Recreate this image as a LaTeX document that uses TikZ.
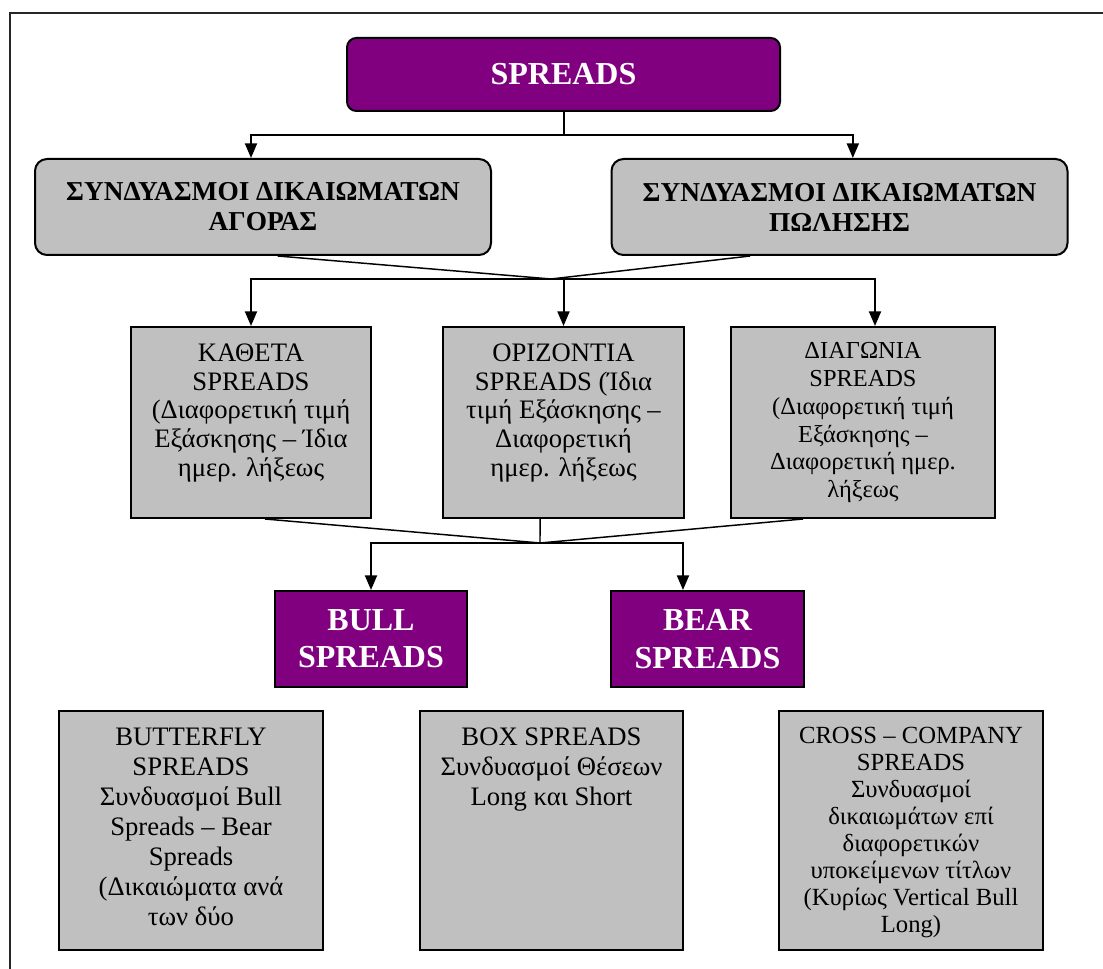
\documentclass[tikz,border=0pt]{standalone}
\usepackage{fontspec}
\setmainfont{Liberation Serif}
\usetikzlibrary{positioning,arrows.meta}
\definecolor{spreadpurple}{HTML}{800080}
\definecolor{spreadgray}{HTML}{C0C0C0}
\newcommand{\celltext}[4]{\parbox[c][#1][t]{#2}{\centering\rule{0pt}{#3}#4}}

\begin{document}
\begin{tikzpicture}[x=0.75pt, y=-0.75pt,
  headbox/.style={draw, line width=1.5pt, fill=spreadpurple, text=white,
    font=\fontsize{24}{28}\selectfont\bfseries, align=center},
  groupbox/.style={draw, line width=1.5pt, fill=spreadgray, rounded corners=9pt,
    minimum width=342pt, minimum height=72pt, align=center,
    font=\fontsize{20.5}{22.5}\selectfont\bfseries},
  kindbox/.style={draw, line width=1.5pt, fill=spreadgray, inner sep=0pt,
    font=\fontsize{20}{21.5}\selectfont},
  wire/.style={line width=1.5pt},
  feed/.style={line width=1.5pt, -{Triangle[length=11pt,width=9pt]}},
  merge/.style={line width=1.1pt}]
\useasboundingbox (0,0) rectangle (1103,969);
\draw[line width=2pt, black!85] (10,969) -- (10,13) -- (1103,13);

\node[headbox, rounded corners=7pt, minimum width=324.75pt, minimum height=54.75pt]
  (spreads) at (563.5,74.5) {SPREADS};
\node[groupbox] (agoras) at (263,207) {ΣΥΝΔΥΑΣΜΟΙ ΔΙΚΑΙΩΜΑΤΩΝ\\ΑΓΟΡΑΣ};
\node[groupbox] (poliseis) at (839.5,207) {ΣΥΝΔΥΑΣΜΟΙ ΔΙΚΑΙΩΜΑΤΩΝ\\ΠΩΛΗΣΗΣ};

\node[kindbox, minimum width=180pt, minimum height=143.25pt] (katheta) at (251,422.5)
  {\celltext{143.25pt}{176pt}{26pt}{ΚΑΘΕΤΑ\\SPREADS\\(Διαφορετική τιμή\\Εξάσκησης – Ίδια\\ημερ. λήξεως}};
\node[kindbox, minimum width=180.75pt, minimum height=143.25pt] (orizontia) at (563.5,422.5)
  {\celltext{143.25pt}{176pt}{26pt}{ΟΡΙΖΟΝΤΙΑ\\SPREADS (Ίδια\\τιμή Εξάσκησης –\\Διαφορετική\\ημερ. λήξεως}};
\node[kindbox, minimum width=198pt, minimum height=143.25pt, font=\fontsize{18.3}{20.8}\selectfont]
  (diagonia) at (863,422.5)
  {\celltext{143.25pt}{192pt}{24pt}{ΔΙΑΓΩΝΙΑ\\SPREADS\\(Διαφορετική τιμή\\Εξάσκησης –\\Διαφορετική ημερ.\\λήξεως}};

\node[headbox, minimum width=144pt, minimum height=72pt] (bull) at (371,639) {BULL\\SPREADS};
\node[headbox, minimum width=144.75pt, minimum height=72pt] (bear) at (707.5,639) {BEAR\\SPREADS};

\node[kindbox, minimum width=198pt, minimum height=179.25pt, font=\fontsize{20}{22.5}\selectfont]
  (butterfly) at (191,830.5)
  {\celltext{179.25pt}{192pt}{26pt}{BUTTERFLY\\SPREADS\\Συνδυασμοί Bull\\Spreads – Bear\\Spreads\\(Δικαιώματα ανά\\των δύο}};
\node[kindbox, minimum width=197.25pt, minimum height=179.25pt, font=\fontsize{20}{22.5}\selectfont]
  (boxsp) at (551.5,830.5)
  {\celltext{179.25pt}{192pt}{26pt}{BOX SPREADS\\Συνδυασμοί Θέσεων\\Long και Short}};
\node[kindbox, minimum width=198pt, minimum height=179.25pt, font=\fontsize{18.5}{20.3}\selectfont]
  (cross) at (911,830.5)
  {\celltext{179.25pt}{192pt}{24pt}{CROSS – COMPANY\\SPREADS\\Συνδυασμοί\\δικαιωμάτων επί\\διαφορετικών\\υποκείμενων τίτλων\\(Κυρίως Vertical Bull\\Long)}};

\coordinate (split) at (563.5,135);
\draw[wire] (spreads) -- (split);
\draw[feed] (split) -| ([xshift=-9pt]agoras.north);
\draw[feed] (split) -| ([xshift=10pt]poliseis.north);

\coordinate (join1) at (551,279);
\draw[merge] ([xshift=11pt]agoras.south) -- (join1) -- ([xshift=-67pt]poliseis.south);
\draw[feed] (join1) -| (katheta.north);
\draw[feed] (join1 -| orizontia.north) -- (orizontia.north);
\draw[feed] (join1) -| ([xshift=9pt]diagonia.north);

\coordinate (join2) at (540,543);
\draw[merge] ([xshift=10.5pt]katheta.south) -- (join2) -- ([xshift=-45pt]diagonia.south);
\draw[merge] ([xshift=-17.6pt]orizontia.south) -- (join2);
\draw[feed] (join2) -| (bull.north);
\draw[feed] (join2) -| ([xshift=-18.4pt]bear.north);
\end{tikzpicture}
\end{document}
